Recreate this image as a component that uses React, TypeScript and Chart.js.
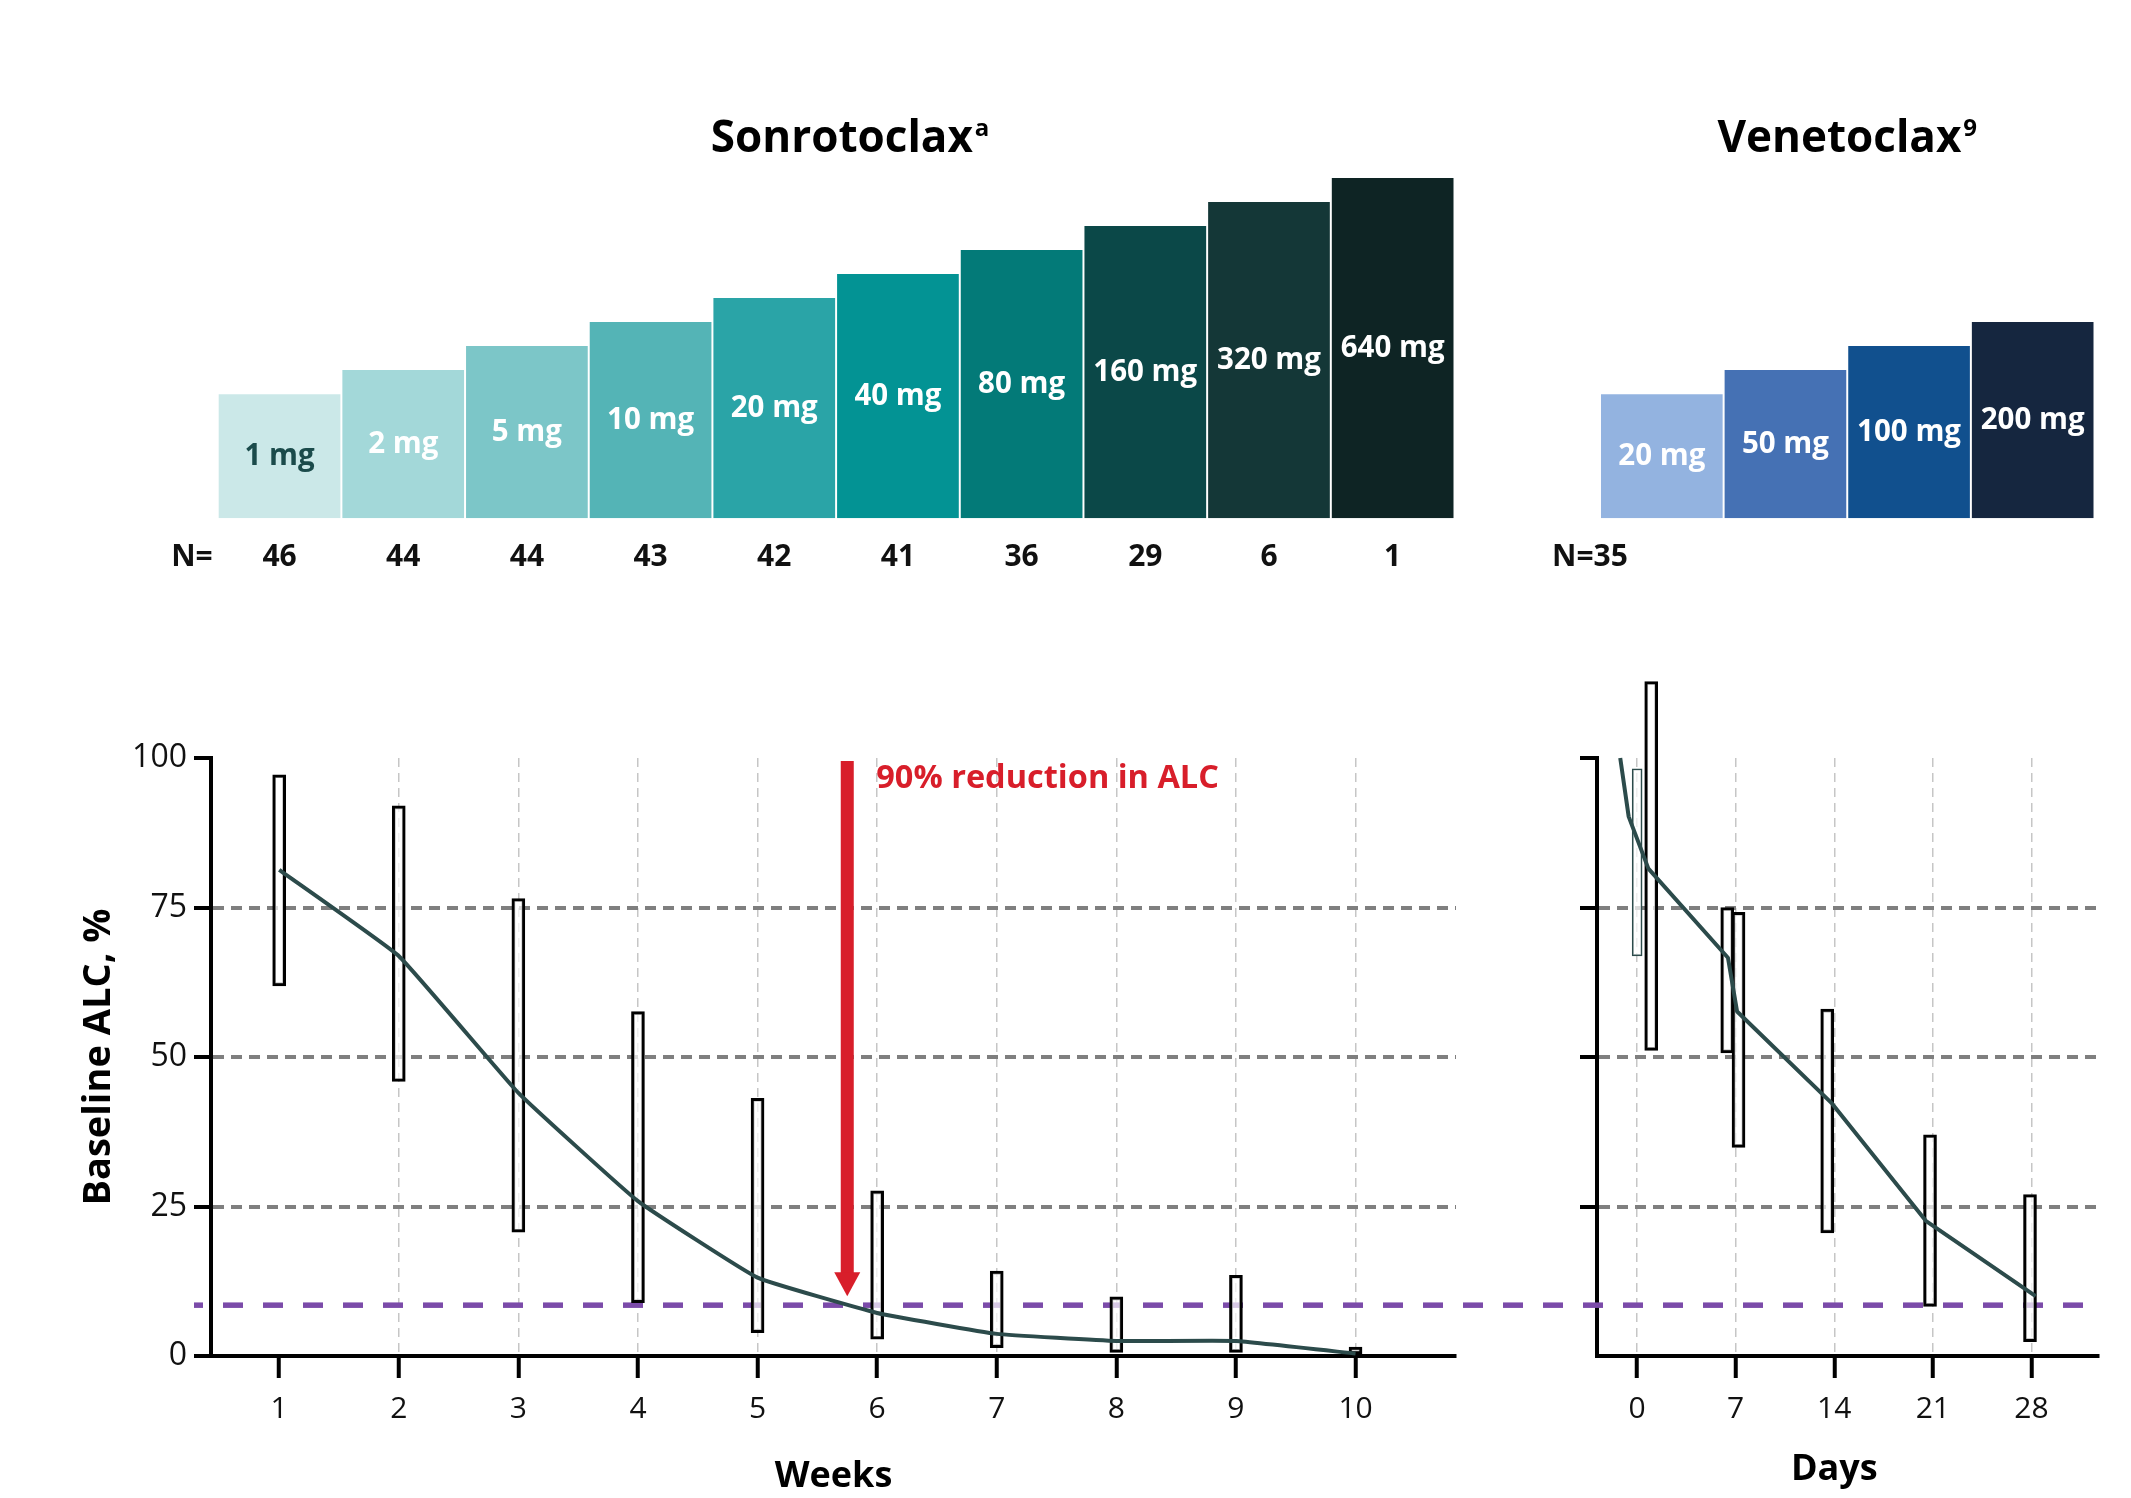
import React, { useEffect, useRef } from "react";
import { Chart, registerables } from "chart.js";
Chart.register(...registerables);

const FONT = "'Open Sans', sans-serif";
Chart.defaults.font.family = FONT;
Chart.defaults.color = "#111";

// ---------- Dose escalation step charts ----------
const sonroDoses = ["1 mg", "2 mg", "5 mg", "10 mg", "20 mg", "40 mg", "80 mg", "160 mg", "320 mg", "640 mg"];
const sonroLevels = [1, 2, 3, 4, 5, 6, 7, 8, 9, 10];
const sonroN = [46, 44, 44, 43, 42, 41, 36, 29, 6, 1];
const sonroColors = ["#cbe8e8", "#a3d8d9", "#7cc6c8", "#54b4b6", "#2aa4a7", "#039394", "#037a78", "#0b4848", "#143737", "#0e2424"];
const sonroLabelColors = ["#1b4b4b", "#fff", "#fff", "#fff", "#fff", "#fff", "#fff", "#fff", "#fff", "#fff"];

const venetoDoses = ["20 mg", "50 mg", "100 mg", "200 mg"];
const venetoLevels = [1, 2, 3, 4];
const venetoN = 35;
const venetoColors = ["#93b3e0", "#4571b4", "#11508e", "#15263f"];

const STEP_FLOOR = -4.17;
const STEP_TOP = 10;

// ---------- ALC over time ----------
const yTicks = [0, 25, 50, 75, 100];
const refLines = [25, 50, 75];
const threshold = 8.5;

const weekTicks = [1, 2, 3, 4, 5, 6, 7, 8, 9, 10];
const sonroBoxLow = [61.9, 45.9, 20.7, 8.9, 3.9, 2.8, 1.4, 0.6, 0.6, 0];
const sonroBoxHigh = [97.2, 92.0, 76.5, 57.6, 43.1, 27.6, 14.2, 9.9, 13.5, 1.5];
const sonroMedian = [81.3, 66.9, 44.0, 25.9, 13.1, 7.2, 3.7, 2.5, 2.5, 0.4];

const arrowWeek = 5.75;
const arrowFrom = 100;
const arrowTo = 10;
const arrowText = "90% reduction in ALC";

const dayTicks = [0, 7, 14, 21, 28];
const venetoBaseBoxDay = [0];
const venetoBaseBoxLow = [66.9];
const venetoBaseBoxHigh = [98.2];
const venetoBoxDays = [1, 6.4, 7.2, 13.5, 20.8, 27.9];
const venetoBoxLow = [51.1, 50.7, 34.9, 20.6, 8.3, 2.4];
const venetoBoxHigh = [112.8, 75.0, 74.2, 58.0, 37.0, 27.0];
const venetoLineDays = [-1.2, -0.6, 0.8, 6.45, 7.1, 13.85, 20.5, 28.3];
const venetoLineValues = [100, 90.2, 81.5, 66.6, 57.6, 42.2, 22.6, 10.0];

const LINE_COLOR = "#2c4b4b";
const PURPLE = "#7b4ba9";
const RED = "#d81e2a";
const TRANSPARENT = "rgba(0,0,0,0)";
const BOX_FILL = "rgba(255,255,255,0.7)";

function drawTitle(ctx: CanvasRenderingContext2D, main: string, sup: string, cx: number, baseline: number) {
  ctx.save();
  ctx.fillStyle = "#000";
  ctx.textBaseline = "alphabetic";
  ctx.textAlign = "left";
  ctx.font = `bold 44px ${FONT}`;
  const wMain = ctx.measureText(main).width;
  ctx.font = `bold 24px ${FONT}`;
  const wSup = ctx.measureText(sup).width;
  const x0 = cx - (wMain + wSup + 2) / 2;
  ctx.font = `bold 44px ${FONT}`;
  ctx.fillText(main, x0, baseline);
  ctx.font = `bold 24px ${FONT}`;
  ctx.fillText(sup, x0 + wMain + 2, baseline - 16);
  ctx.restore();
}

function barLabels(chart: any, labels: string[], colors: string[]) {
  const ctx = chart.ctx as CanvasRenderingContext2D;
  const meta = chart.getDatasetMeta(0);
  ctx.save();
  ctx.textAlign = "center";
  ctx.textBaseline = "middle";
  ctx.font = `bold 29.5px ${FONT}`;
  meta.data.forEach((el: any, i: number) => {
    const p = el.getProps(["x", "y", "base"], true);
    ctx.fillStyle = colors[i];
    ctx.fillText(labels[i], p.x, (p.y + p.base) / 2);
  });
  ctx.restore();
}

function makeSonroSteps() {
  return {
    type: "bar",
    data: {
      labels: sonroDoses,
      datasets: [
        {
          data: sonroLevels.map((v) => [STEP_FLOOR, v]),
          backgroundColor: sonroColors,
          borderWidth: 0,
          barPercentage: 0.984,
          categoryPercentage: 1,
        },
      ],
    },
    options: {
      responsive: false,
      animation: false,
      layout: { padding: { left: 67.7, right: 25.5, top: 118, bottom: 81.7 } },
      scales: {
        x: { display: false },
        y: { display: false, min: STEP_FLOOR, max: STEP_TOP },
      },
      plugins: { legend: { display: false }, tooltip: { enabled: false } },
    },
    plugins: [
      {
        id: "sonroText",
        afterDatasetsDraw(chart: any) {
          barLabels(chart, sonroDoses, sonroLabelColors);
          const ctx = chart.ctx as CanvasRenderingContext2D;
          const area = chart.chartArea;
          const meta = chart.getDatasetMeta(0);
          ctx.save();
          ctx.font = `bold 30px ${FONT}`;
          ctx.fillStyle = "#111";
          ctx.textBaseline = "middle";
          ctx.textAlign = "center";
          const ny = area.bottom + 39;
          meta.data.forEach((el: any, i: number) => ctx.fillText(String(sonroN[i]), el.x, ny));
          ctx.textAlign = "right";
          ctx.fillText("N=", area.left - 5, ny);
          ctx.restore();
          drawTitle(ctx, "Sonrotoclax", "a", (area.left + area.right) / 2 + 14, area.top - 26);
        },
      },
    ],
  };
}

function makeVenetoSteps() {
  return {
    type: "bar",
    data: {
      labels: venetoDoses,
      datasets: [
        {
          data: venetoLevels.map((v) => [STEP_FLOOR, v]),
          backgroundColor: venetoColors,
          borderWidth: 0,
          barPercentage: 0.984,
          categoryPercentage: 1,
        },
      ],
    },
    options: {
      responsive: false,
      animation: false,
      layout: { padding: { left: 110, right: 36.5, top: 118, bottom: 81.7 } },
      scales: {
        x: { display: false },
        y: { display: false, min: STEP_FLOOR, max: STEP_TOP },
      },
      plugins: { legend: { display: false }, tooltip: { enabled: false } },
    },
    plugins: [
      {
        id: "venetoText",
        afterDatasetsDraw(chart: any) {
          barLabels(chart, venetoDoses, venetoDoses.map(() => "#fff"));
          const ctx = chart.ctx as CanvasRenderingContext2D;
          const area = chart.chartArea;
          ctx.save();
          ctx.font = `bold 30px ${FONT}`;
          ctx.fillStyle = "#111";
          ctx.textBaseline = "middle";
          ctx.textAlign = "center";
          ctx.fillText("N=" + venetoN, area.left - 10, area.bottom + 39);
          ctx.restore();
          drawTitle(ctx, "Venetoclax", "9", (area.left + area.right) / 2, area.top - 26);
        },
      },
    ],
  };
}

function thresholdPlugin(globalLeft: number, fromAxis: boolean, toEdge: boolean) {
  return {
    id: "threshold",
    beforeDatasetsDraw(chart: any) {
      const ctx = chart.ctx as CanvasRenderingContext2D;
      const area = chart.chartArea;
      const y = chart.scales.y.getPixelForValue(threshold);
      const x0 = fromAxis ? area.left - 17 : 0;
      const x1 = toEdge ? chart.width : area.right;
      ctx.save();
      ctx.strokeStyle = PURPLE;
      ctx.lineWidth = 5.5;
      ctx.setLineDash([20, 20]);
      ctx.lineDashOffset = globalLeft + x0 - 183;
      ctx.beginPath();
      ctx.moveTo(x0, y);
      ctx.lineTo(x1, y);
      ctx.stroke();
      ctx.restore();
    },
  };
}

function yAxis(width: number, showLabels: boolean, tickAtZero: boolean, title?: any) {
  return {
    min: 0,
    max: 100,
    afterBuildTicks: (s: any) => {
      s.ticks = yTicks.map((v) => ({ value: v }));
    },
    afterFit: (s: any) => {
      s.width = width;
    },
    grid: {
      color: (c: any) => (c.tick && refLines.includes(c.tick.value) ? "#7f7f7f" : TRANSPARENT),
      lineWidth: 4,
      tickColor: (c: any) => (!tickAtZero && c.tick && c.tick.value === 0 ? TRANSPARENT : "#000"),
      tickWidth: 4,
      tickLength: 17,
      tickBorderDash: [],
    },
    border: { display: true, color: "#000", width: 4, dash: [11, 7] },
    ticks: { display: showLabels, font: { size: 32 }, color: "#111", padding: 7 },
    title: title || { display: false },
  };
}

function xAxis(min: number, max: number, ticks: number[], hiddenGrid: number[], title?: any) {
  return {
    type: "linear",
    min,
    max,
    offset: false,
    afterBuildTicks: (s: any) => {
      s.ticks = ticks.map((v) => ({ value: v }));
    },
    afterFit: (s: any) => {
      s.height = 142;
    },
    grid: {
      offset: false,
      color: (c: any) => (c.tick && hiddenGrid.includes(c.tick.value) ? TRANSPARENT : "#c6c6c6"),
      lineWidth: 1.5,
      tickColor: "#000",
      tickWidth: 4,
      tickLength: 22,
      tickBorderDash: [],
    },
    border: { display: true, color: "#000", width: 4, dash: [9, 6] },
    ticks: { font: { size: 30 }, color: "#111", padding: 13, autoSkip: false, maxRotation: 0 },
    title: title || { display: false },
  };
}

function makeSonroAlc() {
  return {
    type: "line",
    data: {
      datasets: [
        {
          type: "line",
          data: weekTicks.map((w, i) => ({ x: w, y: sonroMedian[i] })),
          borderColor: LINE_COLOR,
          borderWidth: 4,
          pointRadius: 0,
          tension: 0.1,
          borderJoinStyle: "round",
          order: 0,
        },
        {
          type: "bar",
          data: weekTicks.map((w, i) => ({ x: w, y: [sonroBoxLow[i], sonroBoxHigh[i]] })),
          backgroundColor: BOX_FILL,
          borderColor: "#000",
          borderWidth: 3,
          borderSkipped: false,
          barThickness: 13,
          grouped: false,
          clip: false,
          order: 1,
        },
      ],
    },
    options: {
      responsive: false,
      animation: false,
      layout: { padding: { left: 0, right: 104, top: 118, bottom: 0 } },
      scales: {
        x: xAxis(0.43, 10.84, weekTicks, [1], {
          display: true,
          text: "Weeks",
          font: { size: 36, weight: "bold" },
          color: "#000",
          padding: { top: 0, bottom: 0 },
        }),
        y: yAxis(211, true, true, {
          display: true,
          text: "Baseline ALC, %",
          font: { size: 38, weight: "bold" },
          color: "#000",
          padding: { top: 76, bottom: 0 },
        }),
      },
      plugins: { legend: { display: false }, tooltip: { enabled: false } },
    },
    plugins: [
      thresholdPlugin(0, true, true),
      {
        id: "arrow",
        afterDatasetsDraw(chart: any) {
          const ctx = chart.ctx as CanvasRenderingContext2D;
          const xs = chart.scales.x;
          const ys = chart.scales.y;
          const x = xs.getPixelForValue(arrowWeek);
          const yTop = ys.getPixelForValue(arrowFrom);
          const yTip = ys.getPixelForValue(arrowTo);
          const headH = 24;
          const headW = 13;
          ctx.save();
          ctx.fillStyle = RED;
          ctx.fillRect(x - 6.5, yTop + 3, 13, yTip - headH - yTop - 1);
          ctx.beginPath();
          ctx.moveTo(x - headW, yTip - headH);
          ctx.lineTo(x + headW, yTip - headH);
          ctx.lineTo(x, yTip);
          ctx.closePath();
          ctx.fill();
          ctx.font = `bold 32.5px ${FONT}`;
          ctx.textAlign = "left";
          ctx.textBaseline = "middle";
          ctx.fillText(arrowText, x + 29, yTop + 21);
          ctx.restore();
        },
      },
    ],
  };
}

function makeVenetoAlc() {
  return {
    type: "line",
    data: {
      datasets: [
        {
          type: "line",
          data: venetoLineDays.map((d, i) => ({ x: d, y: venetoLineValues[i] })),
          borderColor: LINE_COLOR,
          borderWidth: 4,
          pointRadius: 0,
          tension: 0,
          borderJoinStyle: "round",
          clip: false,
          order: 0,
        },
        {
          type: "bar",
          data: venetoBaseBoxDay.map((d, i) => ({ x: d, y: [venetoBaseBoxLow[i], venetoBaseBoxHigh[i]] })),
          backgroundColor: BOX_FILL,
          borderColor: LINE_COLOR,
          borderWidth: 1.5,
          borderSkipped: false,
          barThickness: 10,
          grouped: false,
          clip: false,
          order: 2,
        },
        {
          type: "bar",
          data: venetoBoxDays.map((d, i) => ({ x: d, y: [venetoBoxLow[i], venetoBoxHigh[i]] })),
          backgroundColor: BOX_FILL,
          borderColor: "#000",
          borderWidth: 3,
          borderSkipped: false,
          barThickness: 13,
          grouped: false,
          clip: false,
          order: 1,
        },
      ],
    },
    options: {
      responsive: false,
      animation: false,
      layout: { padding: { left: 0, right: 32, top: 118, bottom: 0 } },
      scales: {
        x: xAxis(-2.85, 32.8, dayTicks, []),
        y: yAxis(37, false, false),
      },
      plugins: { legend: { display: false }, tooltip: { enabled: false } },
    },
    plugins: [
      thresholdPlugin(1560, false, false),
      {
        id: "daysTitle",
        afterDraw(chart: any) {
          const ctx = chart.ctx as CanvasRenderingContext2D;
          ctx.save();
          ctx.font = `bold 36px ${FONT}`;
          ctx.fillStyle = "#000";
          ctx.textAlign = "center";
          ctx.textBaseline = "middle";
          ctx.fillText("Days", chart.scales.x.getPixelForValue(14), chart.chartArea.bottom + 114);
          ctx.restore();
        },
      },
    ],
  };
}

function ChartCanvas({ x, y, w, h, make }: { x: number; y: number; w: number; h: number; make: () => any }) {
  const ref = useRef<HTMLCanvasElement | null>(null);
  useEffect(() => {
    if (!ref.current) return;
    const chart = new Chart(ref.current, make());
    return () => chart.destroy();
  }, []);
  return (
    <canvas
      ref={ref}
      width={w}
      height={h}
      style={{ position: "absolute", left: x, top: y, width: w, height: h }}
    />
  );
}

export default function App() {
  return (
    <div
      style={{
        position: "absolute",
        left: 0,
        top: 0,
        width: 2131,
        height: 1498,
        overflow: "hidden",
        background: "#fff",
      }}
    >
      <ChartCanvas x={150} y={60} w={1330} h={540} make={makeSonroSteps} />
      <ChartCanvas x={1490} y={60} w={641} h={540} make={makeVenetoSteps} />
      <ChartCanvas x={0} y={640} w={1560} h={858} make={makeSonroAlc} />
      <ChartCanvas x={1560} y={640} w={571} h={858} make={makeVenetoAlc} />
    </div>
  );
}
